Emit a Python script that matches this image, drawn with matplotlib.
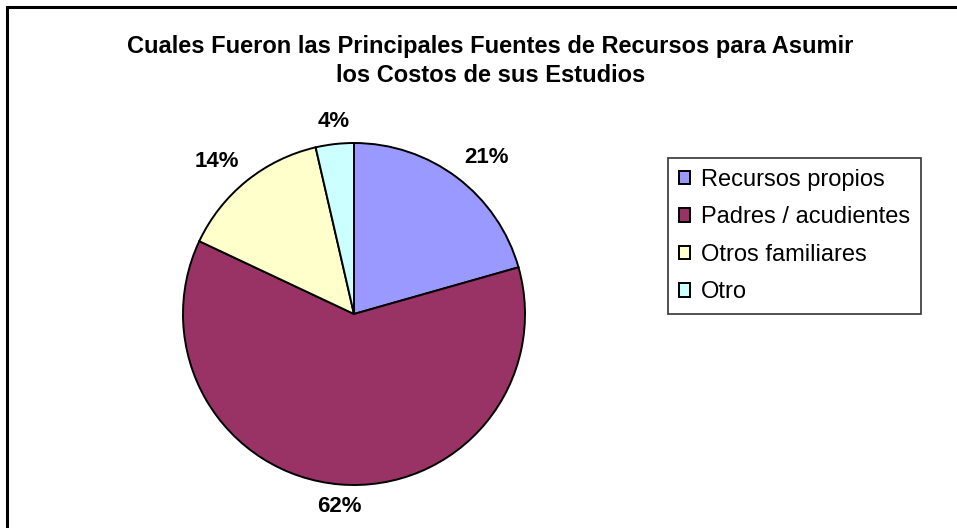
import matplotlib
matplotlib.use("Agg")
import matplotlib.pyplot as plt
import numpy as np
from matplotlib.lines import Line2D

plt.rcParams['font.family'] = ['Liberation Sans', 'DejaVu Sans']

title = "Cuales Fueron las Principales Fuentes de Recursos para Asumir\nlos Costos de sus Estudios"
categories = ["Recursos propios", "Padres / acudientes", "Otros familiares", "Otro"]
values = [20.6, 61.4, 14.4, 3.6]
pct_labels = ["21%", "62%", "14%", "4%"]
colors = ["#9999FF", "#993366", "#FFFFCC", "#CCFFFF"]

W, H = 957, 528
fig = plt.figure(figsize=(W / 100, H / 100), dpi=100)
fig.patch.set_facecolor("white")

# outer border (only top and left edges visible in the reference)
fig.add_artist(Line2D([7.5 / W, 7.5 / W, 1.0], [0.0, 1 - 7 / H, 1 - 7 / H],
                      transform=fig.transFigure, color="black", linewidth=2.2,
                      solid_joinstyle="miter"))

cx, cy, r = 354, 314, 171
ax = fig.add_axes([(cx - r) / W, (H - cy - r) / H, 2 * r / W, 2 * r / H])
wedges, _ = ax.pie(values, colors=colors, startangle=90, counterclock=False,
                   radius=1, wedgeprops=dict(edgecolor="black", linewidth=1.4))
ax.set_xlim(-1, 1)
ax.set_ylim(-1, 1)
ax.set_aspect("equal")
ax.axis("off")

# Excel-style "outside end" labels: box anchored just outside the rim
for w, lab in zip(wedges, pct_labels):
    ang = np.deg2rad((w.theta1 + w.theta2) / 2)
    c, s = np.cos(ang), np.sin(ang)
    ha = "left" if c > 0.15 else ("right" if c < -0.15 else "center")
    va = "bottom" if s > 0.15 else ("top" if s < -0.15 else "center")
    ax.text(1.07 * c, 1.07 * s, lab, ha=ha, va=va,
            fontsize=16, fontweight="bold", clip_on=False)

fig.text(0.5 * (120 + 861) / W, 1 - 61 / H, title, ha="center", va="center",
         fontsize=17, fontweight="bold", linespacing=1.3)

leg = fig.legend(wedges, categories, loc="upper left",
                 bbox_to_anchor=(668 / W, 1 - 158 / H), fontsize=17,
                 frameon=True, fancybox=False, handlelength=0.5, handleheight=0.5,
                 handletextpad=0.45, labelspacing=0.66, borderpad=0.45,
                 borderaxespad=0.0)
leg.get_frame().set_edgecolor("black")
leg.get_frame().set_linewidth(1.2)

fig.savefig("out.png", dpi=100, facecolor="white")
